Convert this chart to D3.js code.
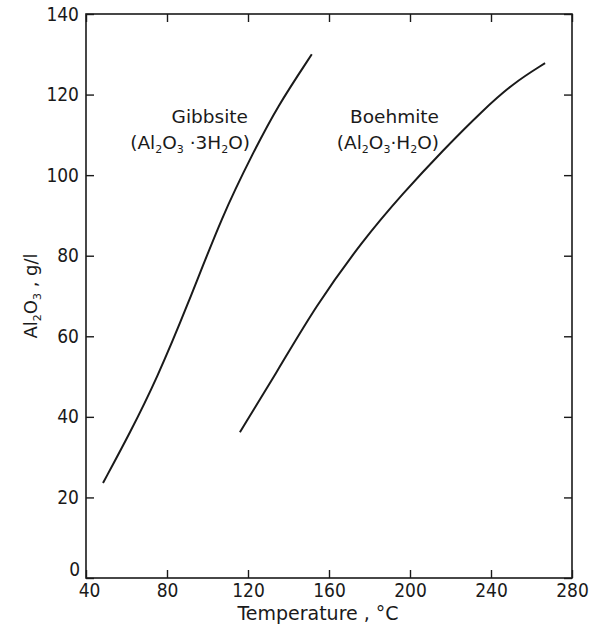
<!DOCTYPE html>
<html><head><meta charset="utf-8">
<script src="https://cdn.jsdelivr.net/npm/d3@7"></script>
<style>body{margin:0;background:#fff}</style>
</head><body>
<svg id="c" width="593" height="630"></svg>
<script>
const xTicks = [40, 80, 120, 160, 200, 240, 280];
const yTicks = [0, 20, 40, 60, 80, 100, 120, 140];
const gibbsiteTemp = [48.4, 61.7, 75, 90, 107.7, 122.5, 134.3, 151.5];
const gibbsiteAl2O3 = [23.6, 36, 49.5, 67.5, 90.5, 105.5, 116.9, 130];
const boehmiteTemp = [116, 135.8, 153, 176.8, 196.5, 216.3, 236, 250.9, 266.7];
const boehmiteAl2O3 = [36.2, 52.4, 67.2, 83.9, 95.5, 106.2, 116.1, 122.8, 127.8];

const svg = d3.select("#c");
const ink = "#1a1a1a";
const x = d3.scaleLinear().domain([40, 280]).range([86, 572]);
const y = d3.scaleLinear().domain([0, 140]).range([578, 14]);
const tickFont = "'DejaVu Sans Condensed','DejaVu Sans',sans-serif";

function styleAxis(g){
  g.select(".domain").remove();
  g.selectAll("line").attr("stroke", ink).attr("stroke-width", 1.4);
  g.selectAll("text").attr("fill", ink).style("font-family", tickFont).style("font-size", "19px");
}
const xAxisG = svg.append("g").attr("transform", `translate(0,${y(0)})`)
  .call(d3.axisBottom(x).tickValues(xTicks).tickSize(-8).tickPadding(6).tickFormat(d3.format("d")))
  .call(styleAxis);
xAxisG.selectAll(".tick").filter(d => d === 40).select("text").attr("dx", 3);
const yAxisG = svg.append("g").attr("transform", `translate(${x(40)},0)`)
  .call(d3.axisLeft(y).tickValues(yTicks).tickSize(-8).tickPadding(7).tickFormat(d3.format("d")))
  .call(styleAxis);
yAxisG.selectAll(".tick").filter(d => d === 0).select("text").attr("dy", "-0.15em").attr("x", -6);
svg.append("g").attr("transform", `translate(0,${y(140)})`)
  .call(d3.axisTop(x).tickValues(xTicks).tickSize(-8).tickFormat(""))
  .call(styleAxis);
svg.append("g").attr("transform", `translate(${x(280)},0)`)
  .call(d3.axisRight(y).tickValues(yTicks).tickSize(-8).tickFormat(""))
  .call(styleAxis);
svg.append("rect").attr("x", x(40)).attr("y", y(140))
  .attr("width", x(280) - x(40)).attr("height", y(0) - y(140))
  .attr("fill", "none").attr("stroke", ink).attr("stroke-width", 1.6);

const line = d3.line().x(d => x(d[0])).y(d => y(d[1])).curve(d3.curveBasis);
[[gibbsiteTemp, gibbsiteAl2O3], [boehmiteTemp, boehmiteAl2O3]].forEach(([t, v]) => {
  svg.append("path").datum(t.map((d, i) => [d, v[i]]))
    .attr("d", line).attr("fill", "none").attr("stroke", ink).attr("stroke-width", 2);
});

const txtFont = "'DejaVu Sans',sans-serif";
function chem(parts, attrs, size){
  const t = svg.append("text").attr("fill", ink).style("font-family", txtFont).style("font-size", size + "px");
  Object.entries(attrs).forEach(([k, v]) => t.attr(k, v));
  let shifted = false;
  parts.forEach(p => {
    if (typeof p === "string") {
      const s = t.append("tspan").text(p);
      if (shifted) { s.attr("dy", -4); shifted = false; }
    } else {
      t.append("tspan").attr("dy", 4).style("font-size", Math.round(size * 0.6) + "px").text(p.sub);
      shifted = true;
    }
  });
  return t;
}
chem(["Gibbsite"], {x: 248, y: 123, "text-anchor": "end"}, 18.5);
chem(["(Al", {sub: "2"}, "O", {sub: "3"}, " ·3H", {sub: "2"}, "O)"], {x: 250, y: 149, "text-anchor": "end"}, 18.5);
chem(["Boehmite"], {x: 439, y: 123, "text-anchor": "end"}, 18.5);
chem(["(Al", {sub: "2"}, "O", {sub: "3"}, "·H", {sub: "2"}, "O)"], {x: 439, y: 149, "text-anchor": "end"}, 18.5);

chem(["Temperature , °C"], {x: 318, y: 620, "text-anchor": "middle"}, 19);
chem(["Al", {sub: "2"}, "O", {sub: "3"}, " , g/l"], {"text-anchor": "middle", transform: "translate(37,296) rotate(-90)"}, 18);
</script>
</body></html>
